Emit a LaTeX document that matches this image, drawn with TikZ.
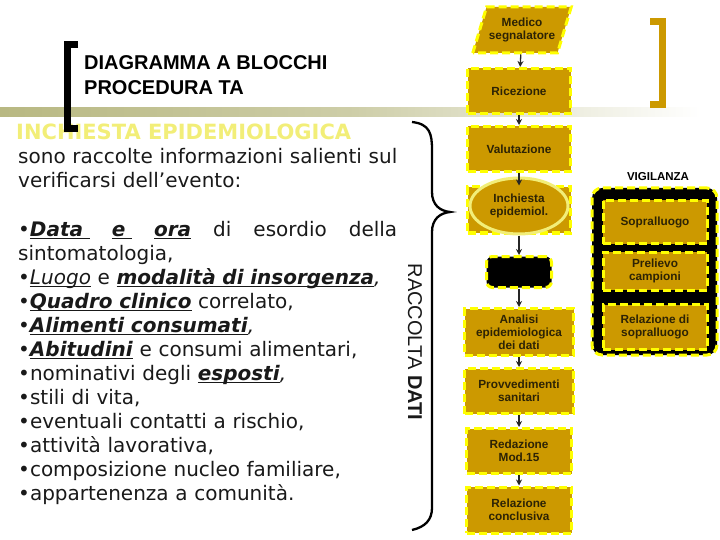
\documentclass[tikz,border=0pt]{standalone}
\usepackage{fontspec}
\setmainfont{DejaVu Sans}[ItalicFont={DejaVu Sans Oblique},BoldItalicFont={DejaVu Sans Bold Oblique}]
\newfontfamily\arialfont{Liberation Sans}
\usetikzlibrary{shapes.geometric,arrows.meta}
\definecolor{gold}{RGB}{204,153,0}
\definecolor{dashyellow}{RGB}{255,255,0}
\definecolor{boxtext}{RGB}{45,35,5}
\definecolor{paleyellow}{RGB}{242,238,120}
\definecolor{bandolive}{RGB}{184,184,130}
\definecolor{bodytext}{RGB}{25,25,25}
% underlined word, fixed rule below the baseline
\newcommand{\uln}[1]{\setbox0\hbox{#1}\rlap{\rule[-2.8pt]{\wd0}{1.3pt}}\box0\relax}
\newcommand{\bi}[1]{\uln{\textbf{\textit{#1}}}}

\begin{document}
\begin{tikzpicture}[x=1pt,y=-1pt,
  flowbox/.style={draw=dashyellow, fill=gold, line width=3pt, dash pattern=on 8pt off 4pt,
    text=boxtext, font=\arialfont\bfseries\fontsize{11.8}{13}\selectfont, align=center, inner sep=2pt},
  flowarrow/.style={-{Stealth[length=6pt,width=6pt]}, line width=1.3pt, black!85},
  slidetext/.style={inner sep=0pt, align=left, text=bodytext, font=\fontsize{20}{24}\selectfont}]
\useasboundingbox (0,0) rectangle (720,540);

% Band and brackets
\shade[left color=bandolive, right color=white, middle color=bandolive!70] (0,108) rectangle (700,117);
\draw[gold, line width=7pt] (650,21.5) -- (662,21.5) -- (662,104.5) -- (650,104.5);

% Title and text
\node[anchor=north west, inner sep=0pt, align=left, font=\arialfont\bfseries\fontsize{20}{25}\selectfont] (title) at (84,55) {DIAGRAMMA A BLOCCHI\\PROCEDURA TA};
\node[anchor=base west, inner sep=0pt, text=paleyellow, font=\bfseries\fontsize{21}{24}\selectfont] (inchiesta) at (16,140) {INCHIESTA EPIDEMIOLOGICA};
\node[slidetext, anchor=north west, text width=385pt] (intro) at (18,148) {sono raccolte informazioni salienti sul\\verificarsi dell’evento:};
\node[slidetext, anchor=north west, text width=379pt] (facts) at (18,221) {%
\hbox to 379pt{•\bi{Data }\hfill\bi{e }\hfill\bi{ora}\hfill di\hfill esordio\hfill della}\\
sintomatologia,\\
•\uln{\textit{Luogo}} e \bi{modalità di insorgenza}\textit{,}\\
•\bi{Quadro clinico} correlato,\\
•\bi{Alimenti consumati}\textit{,}\\
•\bi{Abitudini} e consumi alimentari,\\
•nominativi degli \bi{esposti}\textit{,}\\
•stili di vita,\\
•eventuali contatti a rischio,\\
•attività lavorativa,\\
•composizione nucleo familiare,\\
•appartenenza a comunità.};
\draw[line width=7pt] (78,44.5) -- (67,44.5) -- (67,129) -- (78,129);

% Raccolta dati
\node[rotate=-90, text=bodytext, font=\arialfont\fontsize{20}{20}\selectfont] (raccolta) at (415,342) {RACCOLTA \textbf{DATI}};
\draw[line width=2.3pt] (412,122) .. controls (430,124) and (432,134) .. (432,150) -- (432,192)
  .. controls (432,205) and (440,211) .. (450,212) .. controls (440,213) and (432,219) .. (432,232)
  -- (432,508) .. controls (432,520) and (425,527) .. (412,530);

% Flow
\node[flowbox, trapezium, trapezium left angle=64, trapezium right angle=116, trapezium stretches=true,
  minimum width=99pt, minimum height=46pt] (medico) at (522,30) {Medico\\segnalatore};
\node[flowbox, minimum width=103pt, minimum height=45pt] (ricez) at (519,91) {Ricezione};
\node[flowbox, minimum width=103pt, minimum height=45pt] (valut) at (519,149) {Valutazione};
\node[flowbox, minimum width=103pt, minimum height=46pt] (inch) at (519,210) {};
\node[flowbox, ellipse, draw=paleyellow, solid, minimum width=98pt, minimum height=56pt] (inchtext) at (519,206) {Inchiesta\\epidemiol.};
\node[flowbox, fill=black, rounded corners=6pt, minimum width=65pt, minimum height=31pt] (blank) at (519,272) {};
\node[flowbox, minimum width=109pt, minimum height=47pt] (analisi) at (519,332) {Analisi\\epidemiologica\\dei dati};
\node[flowbox, minimum width=109pt, minimum height=45pt] (provv) at (519,391) {Provvedimenti\\sanitari};
\node[flowbox, minimum width=105pt, minimum height=45pt] (mod) at (519,451) {Redazione\\Mod.15};
\node[flowbox, minimum width=105pt, minimum height=46pt] (concl) at (519,510) {Relazione\\conclusiva};

% Vigilanza
\node[font=\arialfont\bfseries\fontsize{11.5}{12}\selectfont] (vigil) at (658,177) {VIGILANZA};
\node[flowbox, fill=black, rounded corners=10pt, minimum width=125pt, minimum height=167pt] (vframe) at (654.5,271.5) {};
\node[flowbox, minimum width=104pt, minimum height=43pt] (sopr) at (655,222) {Sopralluogo};
\node[flowbox, minimum width=104pt, minimum height=38pt] (prel) at (655,271) {Prelievo\\campioni};
\node[flowbox, minimum width=104pt, minimum height=45pt] (relsopr) at (655,327) {Relazione di\\sopralluogo};

% Arrows
\draw[flowarrow] (medico) -- (ricez);
\draw[flowarrow] (ricez) -- (valut);
\draw[flowarrow] (valut) -- (inch);
\draw[flowarrow] (inchtext) -- (blank);
\draw[flowarrow] (blank) -- (analisi);
\draw[flowarrow] (analisi) -- (provv);
\draw[flowarrow] (provv) -- (mod);
\draw[flowarrow] (mod) -- (concl);
\end{tikzpicture}
\end{document}
